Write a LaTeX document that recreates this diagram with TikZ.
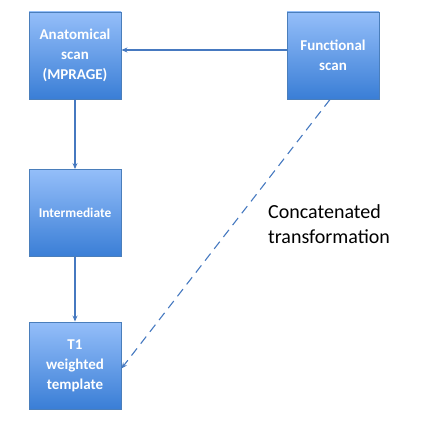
\documentclass[tikz,border=0pt]{standalone}
\usepackage{fontspec}
\setmainfont{Carlito}
\usepackage{tikz}
\usetikzlibrary{arrows.meta}

\definecolor{boxtop}{HTML}{94BEF9}
\definecolor{boxbottom}{HTML}{3A7ED6}
\definecolor{boxline}{HTML}{4A7EBB}
\definecolor{linkblue}{HTML}{4679C0}

\tikzset{
  scanbox/.style={rectangle, draw=boxline, line width=0.9pt, top color=boxtop, bottom color=boxbottom,
    minimum width=92pt, minimum height=87pt, text width=86pt, align=center, inner sep=0pt,
    text=white, font=\fontsize{15}{20}\selectfont\bfseries},
  link/.style={draw=linkblue, line width=1.1pt, -{Stealth[length=6pt,width=5pt]}}
}

\begin{document}
\begin{tikzpicture}[x=1pt,y=1pt,yscale=-1,xscale=1]
\useasboundingbox (0,0) rectangle (443,428);

% Boxes
\node [scanbox] (ana) at (75,55.5) {Anatomical\\scan\\(MPRAGE)};
\node [scanbox] (fun) at (333,55.5) {Functional\\scan};
\node [scanbox, font=\fontsize{13.4}{16}\selectfont\bfseries] (inter) at (75,213) {Intermediate};
\node [scanbox] (tmpl) at (75,365.5) {T1\\weighted\\template};

% Arrows
\draw [link] ([yshift=-5.5pt]fun.west) -- ([yshift=-5.5pt]ana.east);
\draw [link] (ana) -- (inter);
\draw [link] (inter) -- (tmpl);
\draw [link, dash pattern={on 9pt off 6pt}] ([xshift=-3pt]fun.south) -- ([yshift=3pt]tmpl.east);

% Text Node
\node [anchor=west, align=left, inner sep=0pt, font=\fontsize{20}{25}\selectfont] (concat) at (268,224.5) {Concatenated\\transformation};
\end{tikzpicture}
\end{document}
